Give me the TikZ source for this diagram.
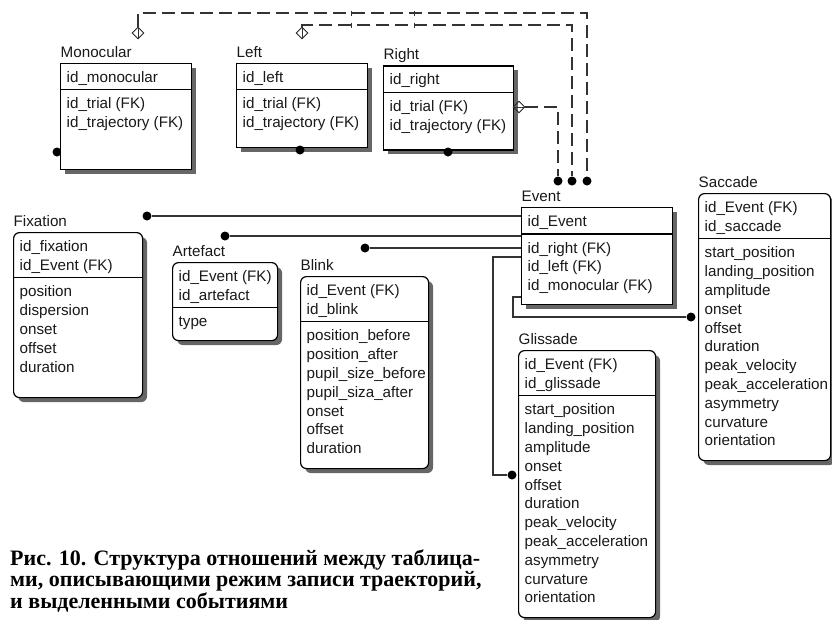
\documentclass[tikz,border=0pt]{standalone}
\usepackage{fontspec}
\setmainfont{Liberation Sans}
\newfontfamily\capfont{Liberation Serif}
\usetikzlibrary{shapes.geometric,calc,shadows}

\tikzset{
  entity/.style={draw=black, line width=1.2pt, fill=white, inner sep=0pt,
    anchor=north west,
    drop shadow={shadow xshift=4.5pt, shadow yshift=-4.5pt, fill=black!60, opacity=1}},
  dependent/.style={entity, rounded corners=6pt},
  fieldtxt/.style={font=\fontsize{15.2}{18}\selectfont, inner sep=0pt,
    anchor=base west, text=black!90},
  titletxt/.style={fieldtxt},
  divider/.style={draw=black, line width=1.1pt},
  rel/.style={line width=1.1pt, draw=black!80},
  idrel/.style={rel, dash pattern=on 13pt off 6pt},
  rdot/.style={circle, fill=black, inner sep=0pt, minimum size=9pt},
  hollow/.style={diamond, draw=black!85, line width=0.9pt, inner sep=0pt,
    minimum width=12pt, minimum height=12pt},
  captxt/.style={font=\capfont\bfseries\fontsize{22}{21.5}\selectfont,
    inner sep=0pt, anchor=base west, align=left}
}

% #1 name, #2 box style, #3 left, #4 top, #5 width, #6 height,
% #7 key fields, #8 attribute fields, #9 table name
\newcommand\erentity[9]{%
  \node[#2, minimum width=#5pt, minimum height=#6pt] (#1) at (#3,#4) {};
  \node[titletxt] (#1-t) at (#3+0.5, #4-5.5) {#9};
  \foreach \fld [count=\i from 0] in {#7} {
    \node[fieldtxt] (#1-k\i) at (#3+6.5, #4+19.5+\i*18.8) {\fld};
    \xdef\lastk{\i}
  }
  \draw[divider] (#3, #4+27+\lastk*18.8) -- (#3+#5, #4+27+\lastk*18.8);
  \foreach \fld [count=\i from 0] in {#8}
    \node[fieldtxt] (#1-a\i) at (#3+6.5, #4+46+\lastk*18.8+\i*18.8) {\fld};
}

\begin{document}
\begin{tikzpicture}[x=1pt,y=-1pt]
\useasboundingbox (0,0) rectangle (832,619);
\fill[white] (0,0) rectangle (832,619);

% relationship end partly hidden behind the Monocular table
\node[rdot] (d-mono) at (57,152) {};

% recording-mode tables
\erentity{mono}{entity}{60}{62.8}{131}{106}
  {id\_monocular}{id\_trial (FK), id\_trajectory (FK)}{Monocular}
\erentity{left}{entity}{236}{62.8}{130.6}{84.2}
  {id\_left}{id\_trial (FK), id\_trajectory (FK)}{Left}
\erentity{right}{entity}{383}{65.3}{130}{84}
  {id\_right}{id\_trial (FK), id\_trajectory (FK)}{Right}

% events
\erentity{event}{entity}{521}{207}{151}{97}
  {id\_Event}{id\_right (FK), id\_left (FK), id\_monocular (FK)}{Event}
\erentity{fix}{dependent}{13}{232}{129}{165}
  {id\_fixation, id\_Event (FK)}{position, dispersion, onset, offset, duration}{Fixation}
\erentity{art}{dependent}{172}{262}{105}{78}
  {id\_Event (FK), id\_artefact}{type}{Artefact}
\erentity{blink}{dependent}{300}{276}{128}{192}
  {id\_Event (FK), id\_blink}{position\_before, position\_after, pupil\_size\_before,
   pupil\_siza\_after, onset, offset, duration}{Blink}
\erentity{gli}{dependent}{518}{350}{137}{267}
  {id\_Event (FK), id\_glissade}{start\_position, landing\_position, amplitude, onset,
   offset, duration, peak\_velocity, peak\_acceleration, asymmetry, curvature,
   orientation}{Glissade}
\erentity{sac}{dependent}{698}{193}{132}{267}
  {id\_Event (FK), id\_saccade}{start\_position, landing\_position, amplitude, onset,
   offset, duration, peak\_velocity, peak\_acceleration, asymmetry, curvature,
   orientation}{Saccade}

% relationship ends
\node[rdot] (d-fix) at (147,216) {};
\node[rdot] (d-art) at (225,236) {};
\node[rdot] (d-blink) at (365,248) {};
\node[rdot] (d-gli) at (512,475) {};
\node[rdot] (d-sac) at (691,317) {};
\node[rdot] (d-ev1) at (558,181) {};
\node[rdot] (d-ev2) at (572,181) {};
\node[rdot] (d-ev3) at (587,181) {};
\node[rdot] (d-left) at (300,150) {};
\node[rdot] (d-right) at (448,152) {};

\coordinate (ev-g) at ($(event.north west)+(0,50)$);
\coordinate (ev-s) at ($(event.north west)+(0,90)$);

% Event -> dependent event tables
\draw[rel] (d-fix) -- (d-fix -| event.west);
\draw[rel] (d-art) -- (d-art -| event.west);
\draw[rel] (d-blink) -- (d-blink -| event.west);
\draw[rel] (ev-g) -- ++(-28,0) |- (d-gli);
\draw[rel] (ev-s) -- ++(-8,0) |- (d-sac);

% recording-mode tables -> Event
\node[hollow] (dm-mono) at (138,33) {};
\node[hollow] (dm-left) at (302,33) {};
\node[hollow] (dm-right) at (519,107) {};
\coordinate (c-mono) at (587,13);
\coordinate (c-left) at (572,25);
\draw[idrel] (dm-mono.north) |- (c-mono) -- (d-ev3);
\draw[idrel] (dm-left.north) |- (c-left) -- (d-ev2);
\draw[idrel] (dm-right.east) -| (d-ev1);
\draw[rel, line width=0.9pt] (dm-mono.north) -- (dm-mono.south);
\draw[rel, line width=0.9pt] (dm-left.north) -- (dm-left.south);
\draw[rel, line width=0.9pt] (dm-right.west) -- (dm-right.east);
\draw[rel, line width=0.8pt] (351,10.5) -- (351,15.5) (414,10.5) -- (414,15.5)
  (351,22.5) -- (351,27.5) (414,22.5) -- (414,27.5);

% caption
\node[captxt] (cap1) at (10,565) {Рис. 10. Структура отношений между таблица-};
\node[captxt] (cap2) at (10,586.5) {ми, описывающими режим записи траекторий,};
\node[captxt] (cap3) at (10,608) {и выделенными событиями};
\end{tikzpicture}
\end{document}
